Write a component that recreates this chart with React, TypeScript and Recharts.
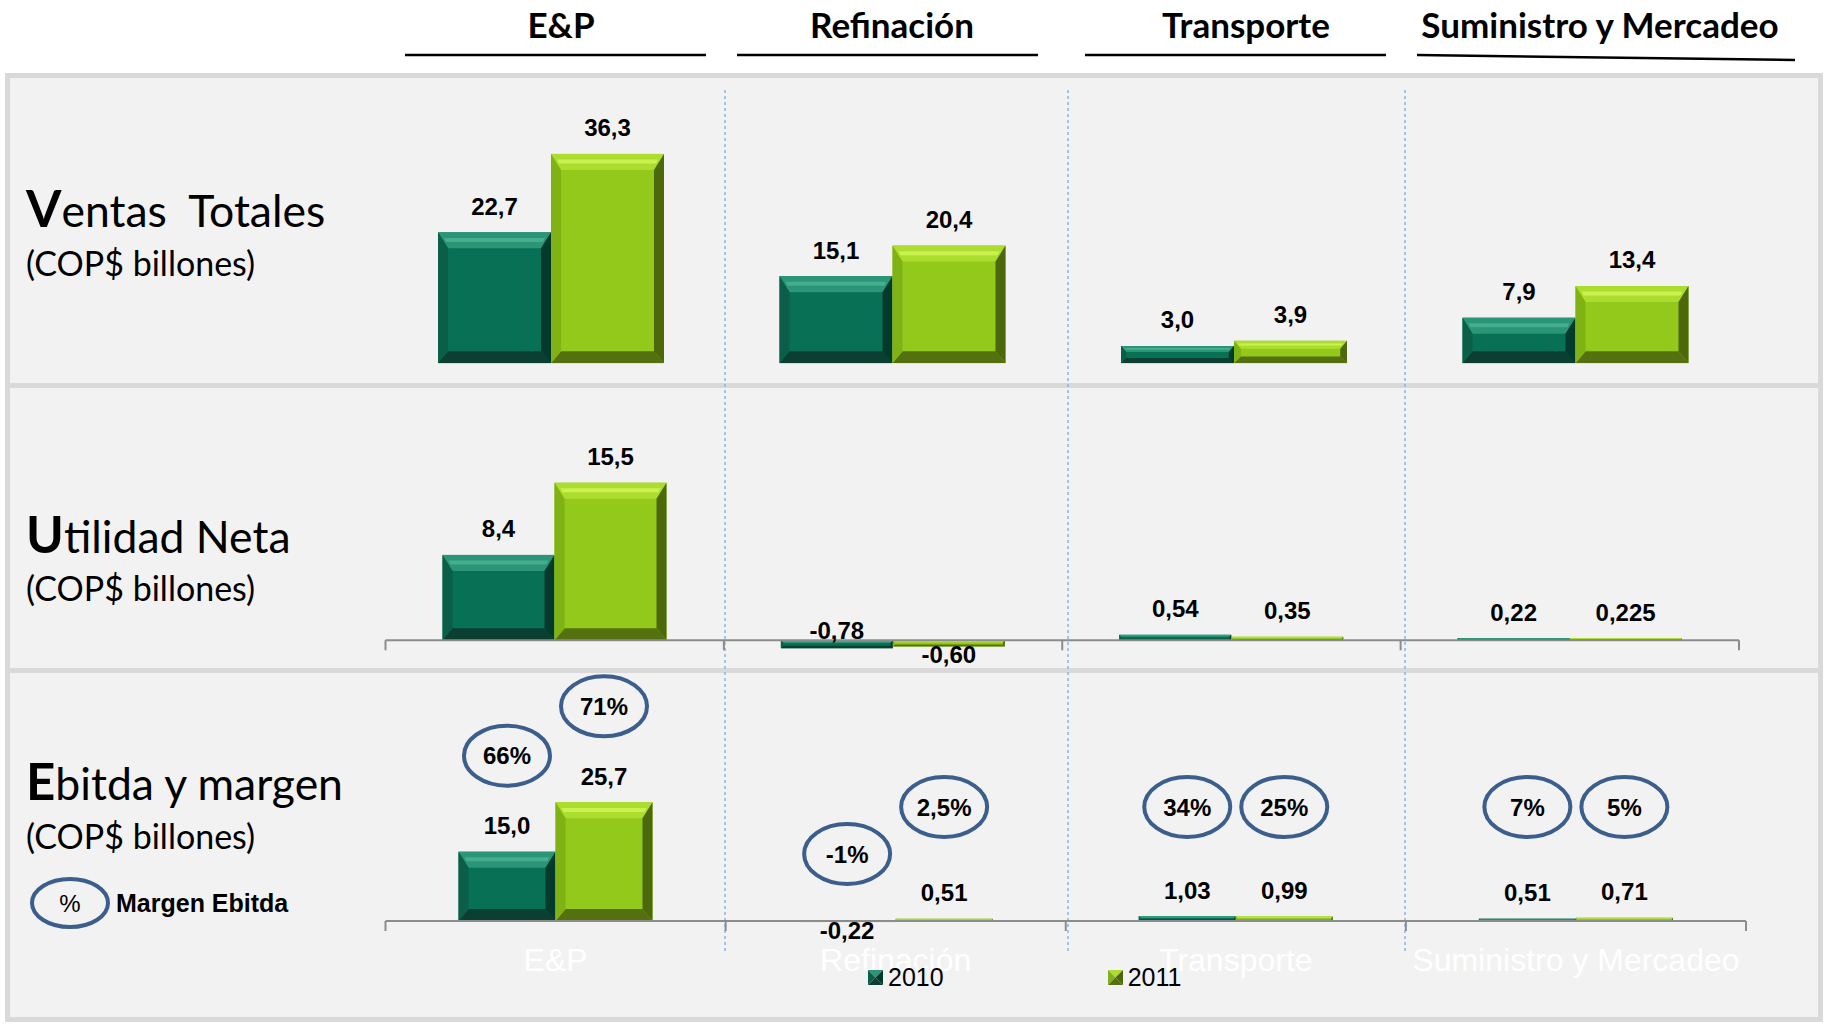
import React from 'react';
import { BarChart, Bar, XAxis, YAxis, LabelList, ReferenceLine, Legend } from 'recharts';

// --- datos ---
const categorias = ['E&P', 'Refinación', 'Transporte', 'Suministro y Mercadeo'];
const series = ['2010', '2011'];
const ventas2010 = [22.7, 15.1, 3.0, 7.9];
const ventas2011 = [36.3, 20.4, 3.9, 13.4];
const utilidad2010 = [8.4, -0.78, 0.54, 0.22];
const utilidad2011 = [15.5, -0.6, 0.35, 0.225];
const ebitda2010 = [15.0, -0.22, 1.03, 0.51];
const ebitda2011 = [25.7, 0.51, 0.99, 0.71];
const margen2010 = [66, -1, 34, 7];
const margen2011 = [71, 2.5, 25, 5];
const filas = [
  { titulo: 'Ventas  Totales', sub: '(COP$ billones)' },
  { titulo: 'Utilidad Neta', sub: '(COP$ billones)' },
  { titulo: 'Ebitda y margen', sub: '(COP$ billones)' },
];

const W = 1826;
const H = 1024;
const LABEL_FONT = '"Liberation Sans", Arial, sans-serif';
const TITLE_FONT = 'Lato, "Open Sans", sans-serif';
const CIRCLE = '#3b5e8c';
const AXIS = '#8c8c8c';

const PAL = [
  { face: '#087055', top: '#2a9577', hi: '#46ae8e', left: '#0b5e47', right: '#033a2c', bottom: '#0a3f31' },
  { face: '#93c91a', top: '#acdc2e', hi: '#c9f150', left: '#7fb214', right: '#4d680b', bottom: '#55700f' },
];

const toRows = (a: number[], b: number[], ma?: number[], mb?: number[]) =>
  categorias.map((c, i) => ({ cat: c, a: a[i], b: b[i], ma: ma ? ma[i] : null, mb: mb ? mb[i] : null }));

const dataVentas = toRows(ventas2010, ventas2011);
const dataUtilidad = toRows(utilidad2010, utilidad2011);
const dataEbitda = toRows(ebitda2010, ebitda2011, margen2010, margen2011);

const fmt = (v: number) => {
  const dec = (String(v).split('.')[1] || '').length;
  const d = Math.max(Math.abs(v) >= 2 ? 1 : 2, dec);
  return v.toFixed(d).replace('.', ',');
};

// barra con bisel
function BevelBar(props: any) {
  const { x, y, width, height, serie } = props;
  if (x == null || y == null || !width || height == null) return null;
  const p = PAL[serie];
  const top = Math.min(y, y + height);
  const h = Math.abs(height);
  if (h < 0.5) return null;
  const l = x, r = x + width, b = top + h;
  const bt = Math.min(16, h * 0.35);
  const bb = Math.min(12, h * 0.3);
  const bs = Math.min(10, width / 2, h * 0.3);
  return (
    <g>
      <rect x={l} y={top} width={width} height={h} fill={p.face} />
      <polygon points={`${l},${top} ${r},${top} ${r - bs},${top + bt} ${l + bs},${top + bt}`} fill={p.top} />
      <polygon
        points={`${l + bs * 0.6},${top + bt * 0.35} ${r - bs * 0.6},${top + bt * 0.35} ${r - bs * 0.8},${top + bt * 0.6} ${l + bs * 0.8},${top + bt * 0.6}`}
        fill={p.hi}
      />
      <polygon points={`${l},${b} ${r},${b} ${r - bs},${b - bb} ${l + bs},${b - bb}`} fill={p.bottom} />
      <polygon points={`${l},${top} ${l + bs},${top + bt} ${l + bs},${b - bb} ${l},${b}`} fill={p.left} />
      <polygon points={`${r},${top} ${r - bs},${top + bt} ${r - bs},${b - bb} ${r},${b}`} fill={p.right} />
    </g>
  );
}

function ValueLabel(props: any) {
  const vb = props.viewBox || props;
  const { x, y, width, height } = vb;
  const value = props.value;
  if (value == null || x == null) return null;
  const top = Math.min(y, y + height);
  const bottom = Math.max(y, y + height);
  let cy;
  if (value >= 0) cy = top - 26;
  else cy = props.negAbove ? top - 10 : bottom + 8;
  return (
    <text
      x={x + width / 2}
      y={cy}
      textAnchor="middle"
      dominantBaseline="central"
      fontFamily={LABEL_FONT}
      fontWeight="bold"
      fontSize={24}
      fill="#000"
    >
      {fmt(value)}
    </text>
  );
}

function MarginCircle(props: any) {
  const vb = props.viewBox || props;
  const { x, y, width, height } = vb;
  const value = props.value;
  if (value == null || x == null) return null;
  const top = Math.min(y, y + height);
  const zero = Math.max(y, y + height);
  const cy = value < 0 ? zero - 68 : Math.min(zero - 114, top - 96);
  const cx = x + width / 2;
  return (
    <g>
      <ellipse cx={cx} cy={cy} rx={43} ry={30} fill="none" stroke={CIRCLE} strokeWidth={4} />
      <text
        x={cx}
        y={cy}
        textAnchor="middle"
        dominantBaseline="central"
        fontFamily={LABEL_FONT}
        fontWeight="bold"
        fontSize={24}
        fill="#000"
      >
        {String(value).replace('.', ',')}%
      </text>
    </g>
  );
}

// línea de cero con marcas entre categorías
function EjeCero(props: any) {
  const x1 = props.x1 ?? props.points?.[0]?.x;
  const x2 = props.x2 ?? props.points?.[1]?.x;
  const y = props.y1 ?? props.points?.[0]?.y;
  if (x1 == null || x2 == null || y == null) return null;
  const n = categorias.length;
  return (
    <g>
      <line x1={x1} x2={x2} y1={y} y2={y} stroke={AXIS} strokeWidth={2} />
      {Array.from({ length: n + 1 }, (_, i) => {
        const x = x1 + ((x2 - x1) * i) / n;
        return <line key={i} x1={x} x2={x} y1={y} y2={y + 10} stroke={AXIS} strokeWidth={2} />;
      })}
    </g>
  );
}

function LegendMarker({ i }: { i: number }) {
  const p = PAL[i];
  return (
    <svg width={15} height={15} style={{ marginRight: 5 }}>
      <polygon points="0,0 15,0 7.5,7.5" fill={p.top} />
      <polygon points="0,0 7.5,7.5 0,15" fill={p.left} />
      <polygon points="15,0 15,15 7.5,7.5" fill={p.right} />
      <polygon points="0,15 15,15 7.5,7.5" fill={p.bottom} />
    </svg>
  );
}

const renderLegend = (props: any) => {
  const payload = props.payload || [];
  return (
    <div style={{ display: 'flex', alignItems: 'center', gap: 164, fontFamily: LABEL_FONT, fontSize: 25 }}>
      {payload.map((e: any, i: number) => (
        <div key={i} style={{ display: 'flex', alignItems: 'center' }}>
          <LegendMarker i={i} />
          <span style={{ color: '#000' }}>{e.value}</span>
        </div>
      ))}
    </div>
  );
};

const barsFor = (size: number, opts: { negAbove?: boolean; margins?: boolean }) =>
  [0, 1].map((s) => (
    <Bar
      key={s}
      dataKey={s === 0 ? 'a' : 'b'}
      name={series[s]}
      fill={PAL[s].face}
      barSize={size}
      isAnimationActive={false}
      shape={(p: any) => <BevelBar {...p} serie={s} />}
    >
      <LabelList
        dataKey={s === 0 ? 'a' : 'b'}
        content={(p: any) => <ValueLabel {...p} negAbove={opts.negAbove && s === 0} />}
      />
      {opts.margins && (
        <LabelList dataKey={s === 0 ? 'ma' : 'mb'} content={(p: any) => <MarginCircle {...p} />} />
      )}
    </Bar>
  ));

const layer: React.CSSProperties = { position: 'absolute', left: 0, top: 0 };

function Fondo() {
  const heads = [
    { x: 561, x1: 405, x2: 706, y1: 55, y2: 55 },
    { x: 892, x1: 737, x2: 1038, y1: 55, y2: 55 },
    { x: 1246, x1: 1085, x2: 1386, y1: 55, y2: 55 },
    { x: 1600, x1: 1417, x2: 1795, y1: 55, y2: 60 },
  ];
  const rowY = [
    [227, 276],
    [553, 601],
    [800, 849],
  ];
  return (
    <svg width={W} height={H} style={layer}>
      <rect x={0} y={0} width={W} height={H} fill="#fff" />
      <rect x={7.5} y={75.5} width={1813} height={944} fill="#f2f2f2" stroke="#d9d9d9" strokeWidth={5} />
      <rect x={5} y={383} width={1818} height={5} fill="#d9d9d9" />
      <rect x={5} y={668} width={1818} height={5} fill="#d9d9d9" />
      {[725, 1068, 1405].map((x) => (
        <line key={x} x1={x} x2={x} y1={90} y2={952} stroke="#8db3e2" strokeWidth={1.5} strokeDasharray="3 3" />
      ))}
      {heads.map((h, i) => (
        <g key={i}>
          <text x={h.x} y={38} textAnchor="middle" fontFamily={TITLE_FONT} fontWeight="bold" fontSize={35} fill="#000">
            {categorias[i]}
          </text>
          <line x1={h.x1} x2={h.x2} y1={h.y1} y2={h.y2} stroke="#000" strokeWidth={2.5} />
        </g>
      ))}
      {filas.map((f, i) => (
        <g key={i} fontFamily={TITLE_FONT} fill="#000">
          <text x={26} y={rowY[i][0]} fontSize={44.5} style={{ whiteSpace: 'pre' }}>
            <tspan fontWeight="bold" fontSize={51}>
              {f.titulo[0]}
            </tspan>
            {f.titulo.slice(1)}
          </text>
          <text x={26} y={rowY[i][1]} fontSize={34}>
            {f.sub}
          </text>
        </g>
      ))}
      <ellipse cx={70} cy={903} rx={38} ry={24} fill="none" stroke={CIRCLE} strokeWidth={4} />
      <text x={70} y={903} textAnchor="middle" dominantBaseline="central" fontFamily={LABEL_FONT} fontSize={24}>
        %
      </text>
      <text x={116} y={903} dominantBaseline="central" fontFamily={LABEL_FONT} fontWeight="bold" fontSize={25}>
        Margen Ebitda
      </text>
    </svg>
  );
}

export default function App() {
  return (
    <div style={{ position: 'absolute', left: 0, top: 0, width: W, height: H, overflow: 'hidden', background: '#fff' }}>
      <Fondo />

      {/* Ventas totales */}
      <div style={layer}>
        <BarChart width={W} height={H} data={dataVentas} barGap={0} margin={{ top: 103.7, right: 80, bottom: H - 363.3, left: 380 }}>
          <XAxis dataKey="cat" hide />
          <YAxis hide domain={[0, 45]} allowDataOverflow />
          {barsFor(113, {})}
        </BarChart>
      </div>

      {/* Utilidad neta */}
      <div style={layer}>
        <BarChart width={W} height={H} data={dataUtilidad} barGap={0} margin={{ top: 416.6, right: 87, bottom: H - 670.8, left: 385.5 }}>
          <XAxis dataKey="cat" hide />
          <YAxis hide domain={[-3, 22]} allowDataOverflow />
          <ReferenceLine y={0} shape={(p: any) => <EjeCero {...p} />} />
          {barsFor(112, { negAbove: true })}
        </BarChart>
      </div>

      {/* Ebitda y margen */}
      <div style={layer}>
        <BarChart width={W} height={H} data={dataEbitda} barGap={0} margin={{ top: 773.2, right: 80, bottom: H - 944.1 - 40, left: 385.5 }}>
          <XAxis
            dataKey="cat"
            height={40}
            axisLine={false}
            tickLine={false}
            tickSize={4}
            tickMargin={0}
            tick={{ fill: '#ffffff', fontSize: 32, fontFamily: LABEL_FONT }}
            interval={0}
          />
          <YAxis hide domain={[-5, 32]} allowDataOverflow />
          <ReferenceLine y={0} shape={(p: any) => <EjeCero {...p} />} />
          {barsFor(97, { margins: true })}
          <Legend
            layout="horizontal"
            verticalAlign="middle"
            align="center"
            content={renderLegend}
            wrapperStyle={{ top: 963, left: 868, width: 'auto' }}
          />
        </BarChart>
      </div>
    </div>
  );
}
